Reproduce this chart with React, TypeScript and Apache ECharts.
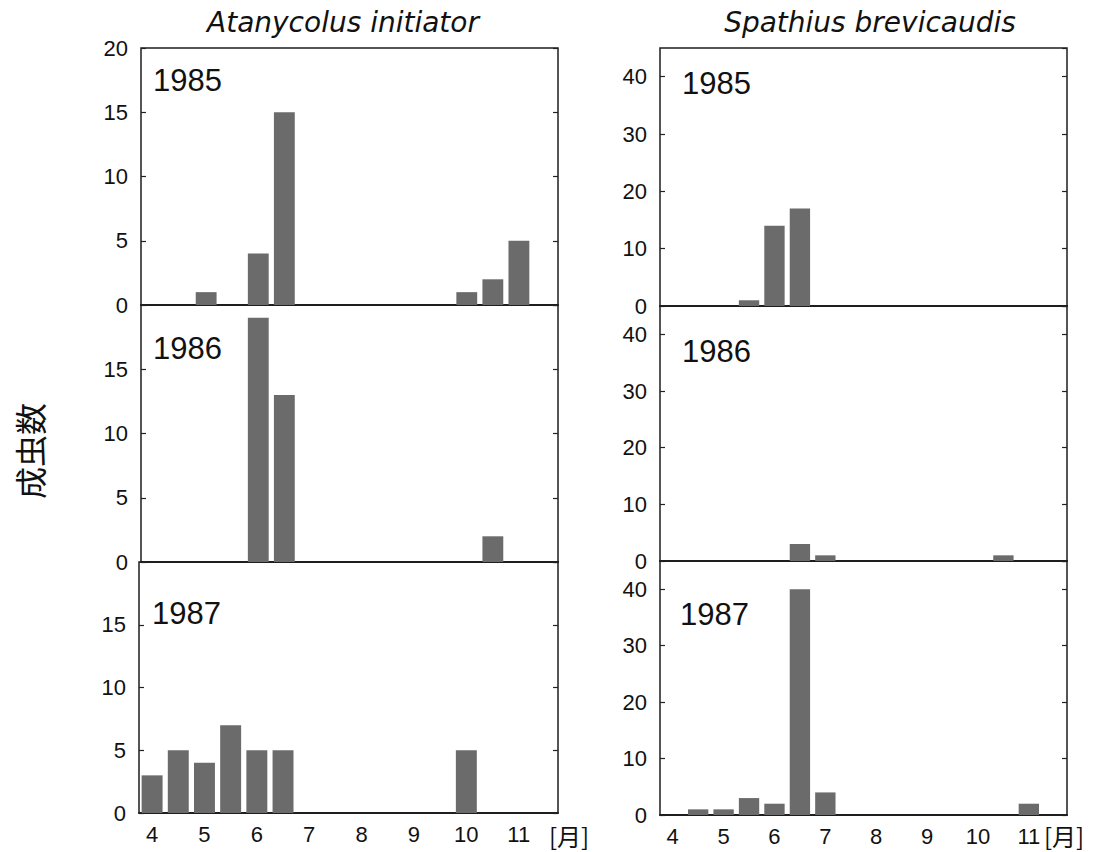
import React, { useEffect, useRef } from "react";
import * as echarts from "echarts";

// Half-month bins, April (1st half) through November (2nd half)
const halfMonths = [
  "4-1", "4-2", "5-1", "5-2", "6-1", "6-2", "7-1", "7-2",
  "8-1", "8-2", "9-1", "9-2", "10-1", "10-2", "11-1", "11-2",
];
const monthLabels = ["4", "5", "6", "7", "8", "9", "10", "11"];

const atanycolus1985 = [0, 0, 1, 0, 4, 15, 0, 0, 0, 0, 0, 0, 1, 2, 5, 0];
const atanycolus1986 = [0, 0, 0, 0, 19, 13, 0, 0, 0, 0, 0, 0, 0, 2, 0, 0];
const atanycolus1987 = [3, 5, 4, 7, 5, 5, 0, 0, 0, 0, 0, 0, 5, 0, 0, 0];
const spathius1985 = [0, 0, 0, 1, 14, 17, 0, 0, 0, 0, 0, 0, 0, 0, 0, 0];
const spathius1986 = [0, 0, 0, 0, 0, 3, 1, 0, 0, 0, 0, 0, 0, 1, 0, 0];
const spathius1987 = [0, 1, 1, 3, 2, 40, 4, 0, 0, 0, 0, 0, 0, 0, 2, 0];

const years = ["1985", "1986", "1987"];
const speciesNames = ["Atanycolus initiator", "Spathius brevicaudis"];
const yLabel = "成虫数";
const unitLabel = "[月]";

const FONT = "'Liberation Sans', Arial, sans-serif";
const TITLE_FONT = "'DejaVu Sans', sans-serif";
const CJK = "'Noto Sans CJK JP', sans-serif";
const BAR = "#6b6b6b";

export default function App() {
  const ref = useRef<HTMLDivElement>(null);
  useEffect(() => {
    if (!ref.current) return;
    const chart = echarts.init(ref.current, null, { renderer: "svg" });

    const panels = [
      { data: atanycolus1985, left: 141, width: 417, top: 48, height: 257, max: 20, interval: 5, showMax: true, bottom: false },
      { data: atanycolus1986, left: 141, width: 417, top: 305, height: 257, max: 20, interval: 5, showMax: false, bottom: false },
      { data: atanycolus1987, left: 139, width: 419, top: 562, height: 251, max: 20, interval: 5, showMax: false, bottom: true },
      { data: spathius1985, left: 660, width: 407, top: 48, height: 258, max: 45, interval: 10, showMax: false, bottom: false },
      { data: spathius1986, left: 660, width: 407, top: 306, height: 255, max: 45, interval: 10, showMax: false, bottom: false },
      { data: spathius1987, left: 660, width: 407, top: 561, height: 254, max: 45, interval: 10, showMax: false, bottom: true },
    ];

    const grid = panels.map((p) => ({
      left: p.left, top: p.top, width: p.width, height: p.height,
      show: true, borderColor: "#1e1e1e", borderWidth: 1.5, backgroundColor: "transparent",
      containLabel: false,
    }));

    const xAxis = panels.map((p, i) => ({
      type: "category",
      gridIndex: i,
      data: halfMonths,
      boundaryGap: true,
      axisLine: { show: true, lineStyle: { color: "#1e1e1e", width: 2 } },
      axisTick: { show: false },
      axisLabel: {
        show: p.bottom,
        interval: 0,
        margin: 10,
        color: "#111",
        fontSize: 22,
        fontFamily: FONT,
        formatter: (_v: string, idx: number) => (idx % 2 === 0 ? monthLabels[idx / 2] : ""),
      },
      splitLine: { show: false },
    }));

    const yLeft = panels.map((p, i) => ({
      type: "value",
      gridIndex: i,
      min: 0,
      max: p.max,
      interval: p.interval,
      position: "left",
      axisLine: { show: false },
      axisTick: { show: true, inside: true, length: 5, lineStyle: { color: "#222", width: 1.2 } },
      axisLabel: {
        show: true, showMaxLabel: p.showMax, margin: 13, color: "#111",
        fontSize: 22, fontFamily: FONT,
      },
      splitLine: { show: false },
    }));
    const yRight = panels.map((p, i) => ({
      type: "value",
      gridIndex: i,
      min: 0,
      max: p.max,
      interval: p.interval,
      position: "right",
      axisLine: { show: false },
      axisTick: { show: true, inside: true, length: 5, lineStyle: { color: "#222", width: 1.2 } },
      axisLabel: { show: false },
      splitLine: { show: false },
    }));

    const series = panels.map((p, i) => ({
      type: "bar",
      xAxisIndex: i,
      yAxisIndex: i,
      data: p.data,
      barCategoryGap: "20%",
      itemStyle: { color: BAR },
      silent: true,
    }));

    const yearPos = [
      [153, 80], [153, 348], [152, 613],
      [682, 83], [682, 351], [680, 614],
    ];
    const yearTexts = yearPos.map((pos, i) => ({
      type: "text",
      x: pos[0],
      y: pos[1],
      style: {
        text: years[i % 3], fontSize: 31, fontFamily: FONT, fill: "#111",
        align: "left", verticalAlign: "middle",
      },
    }));

    chart.setOption({
      animation: false,
      backgroundColor: "#ffffff",
      grid,
      xAxis,
      yAxis: [...yLeft, ...yRight],
      series,
      graphic: [
        ...yearTexts,
        {
          type: "text", x: 343, y: 22,
          style: { text: speciesNames[0], fontSize: 28, fontStyle: "italic", fontFamily: TITLE_FONT, fill: "#111", align: "center", verticalAlign: "middle" },
        },
        {
          type: "text", x: 870, y: 22,
          style: { text: speciesNames[1], fontSize: 28, fontStyle: "italic", fontFamily: TITLE_FONT, fill: "#111", align: "center", verticalAlign: "middle" },
        },
        {
          type: "text", x: 29, y: 451, rotation: Math.PI / 2,
          style: { text: yLabel, fontSize: 32, fontFamily: CJK, fill: "#111", align: "center", verticalAlign: "middle" },
        },
        {
          type: "text", x: 549, y: 835,
          style: { text: unitLabel, fontSize: 24, fontFamily: CJK, fill: "#111", align: "left", verticalAlign: "middle" },
        },
        {
          type: "text", x: 1044, y: 835,
          style: { text: unitLabel, fontSize: 24, fontFamily: CJK, fill: "#111", align: "left", verticalAlign: "middle" },
        },
      ],
    });
    return () => chart.dispose();
  }, []);
  return (
    <div
      ref={ref}
      style={{ position: "fixed", left: 0, top: 0, width: 1098, height: 852, background: "#fff" }}
    />
  );
}
